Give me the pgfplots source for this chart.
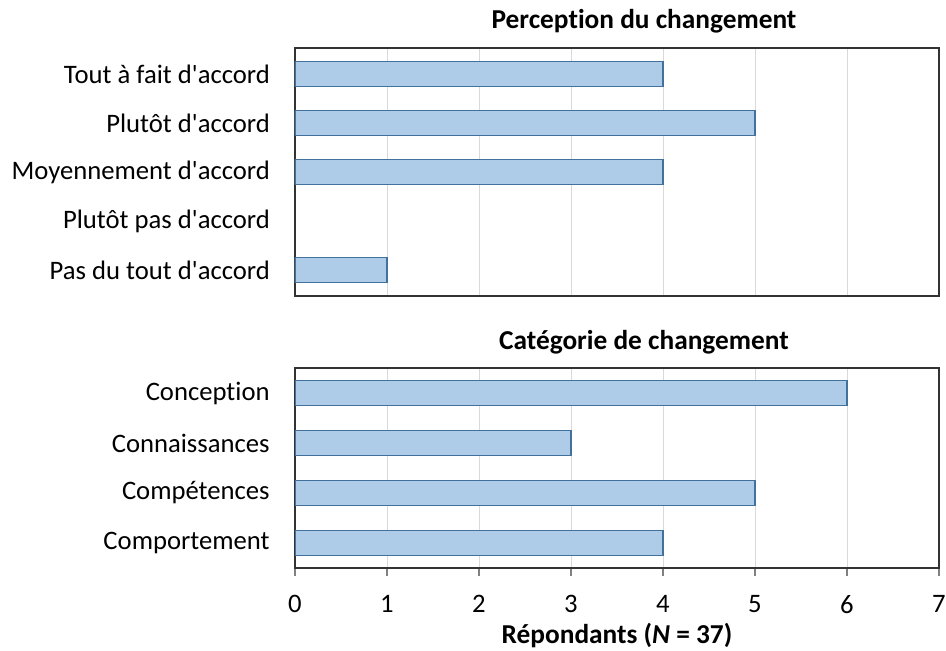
\documentclass[border=0pt]{standalone}
\usepackage{pgfplots}
\pgfplotsset{compat=1.18}
\usepackage{fontspec}
\setmainfont{Carlito}[Ligatures={NoCommon}, RawFeature={-liga;-calt;-clig}]
\definecolor{barfill}{HTML}{AECBE8}
\definecolor{barline}{HTML}{41719C}
\definecolor{gridc}{HTML}{D9D9D9}
\newcommand\ap{\textquotesingle}
\newcommand\ti{t\kern0pt i}
\begin{document}
\begin{tikzpicture}
\useasboundingbox (0,0) rectangle (709.5pt,487.5pt);
\pgfplotsset{
  common/.style={
    scale only axis,
    width=483pt,
    xmin=0, xmax=7,
    xtick={0,...,7},
    y dir=reverse,
    xmajorgrids,
    grid style={gridc, line width=0.6pt},
    axis line style={draw=black!80, line width=0.8pt},
    ytick style={draw=none},
    font=\fontsize{20}{24}\selectfont,
    yticklabel style={font=\fontsize{20}{24}\selectfont},
    xticklabel style={font=\fontsize{20}{24}\selectfont},
    xbar, bar width=18.3pt,
    /pgf/number format/assume math mode=true,
  }
}
\begin{axis}[common,
  at={(221.25pt,265.5pt)}, anchor=south west,
  height=186pt,
  ymin=-0.53, ymax=4.53,
  ytick={0,...,4},
  yticklabels={Tout à fait d\ap accord, Plutôt d\ap accord, Moyennement d\ap accord, Plutôt pas d\ap accord, Pas du tout d\ap accord},
  yticklabel style={xshift=-11pt},
  xticklabels={},
  xtick style={draw=none},
]
\addplot[fill=barfill, draw=barline, line width=0.8pt] coordinates {(4,0) (5,1) (4,2) (1,4)};
\end{axis}
\begin{axis}[common,
  at={(221.25pt,61.5pt)}, anchor=south west,
  height=150pt,
  ymin=-0.5, ymax=3.5,
  ytick={0,...,3},
  yticklabels={Concep\ti on, Connaissances, Compétences, Comportement},
  yticklabel style={xshift=-9.5pt},
  xtick pos=bottom, tick align=outside,
  major tick length=6pt,
  xtick style={draw=gray, line width=1pt},
  xticklabel style={yshift=-11pt},
]
\addplot[fill=barfill, draw=barline, line width=0.8pt] coordinates {(6,0) (3,1) (5,2) (4,3)};
\end{axis}
\node[font=\fontsize{20.5}{24}\selectfont\bfseries] at (483pt,471.75pt) {Percep\ti on du changement};
\node[font=\fontsize{20.5}{24}\selectfont\bfseries] at (483pt,231pt) {Catégorie de changement};
\node[font=\fontsize{20.5}{24}\selectfont\bfseries] at (462.75pt,10.5pt) {Répondants (\textit{N} = 37)};
\end{tikzpicture}
\end{document}
